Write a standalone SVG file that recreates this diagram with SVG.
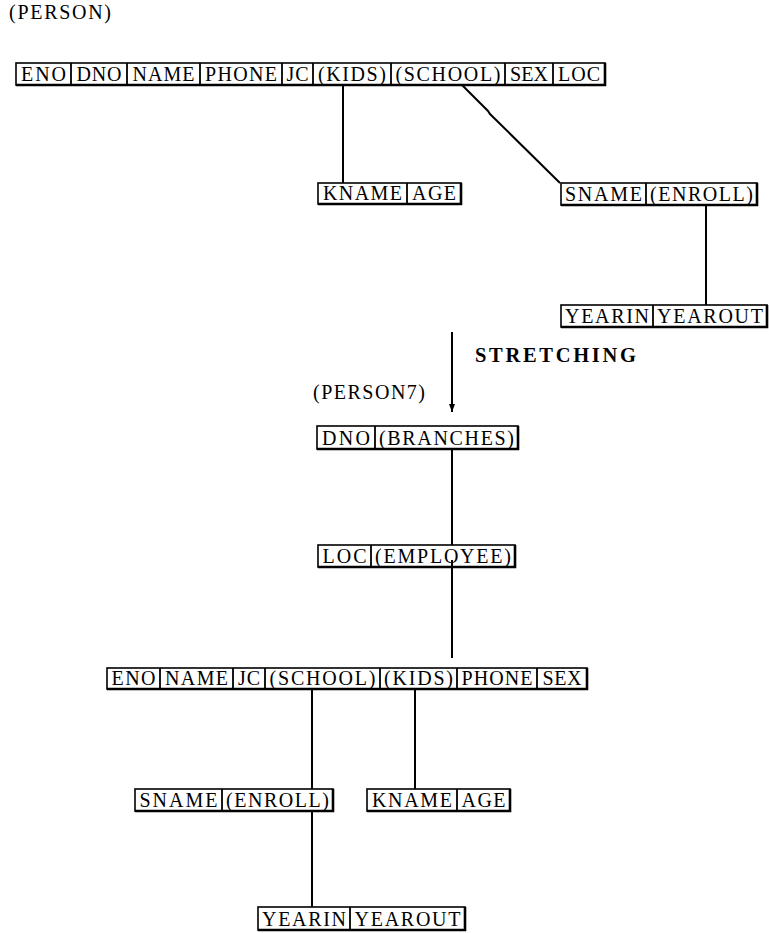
<svg xmlns="http://www.w3.org/2000/svg" width="769" height="933" viewBox="0 0 769 933">
<defs>
<style>
.bx{fill:#fff;stroke:#000;stroke-width:1.6}
.sh{fill:none;stroke:#000;stroke-width:2.6}
.dv{stroke:#000;stroke-width:1.8}
.t{font-family:"Liberation Serif","DejaVu Serif",serif;font-size:20px;text-anchor:middle;fill:#000}
.lb{font-family:"Liberation Serif","DejaVu Serif",serif;font-size:20px;fill:#000}
.bd{font-family:"Liberation Serif","DejaVu Serif",serif;font-size:20.5px;font-weight:bold;fill:#000}
.cn{fill:none;stroke:#000;stroke-width:2}
</style>
<marker id="ah" viewBox="0 0 8 10" refX="8" refY="5" markerWidth="8" markerHeight="10" markerUnits="userSpaceOnUse" orient="auto">
<path d="M0,2 L8,5 L0,8 z" fill="#000"/>
</marker>
</defs>
<rect width="769" height="933" fill="#fff"/>

<text class="lb" x="9" y="19" textLength="102" lengthAdjust="spacing">(PERSON)</text>
<text class="lb" x="313" y="399" textLength="112" lengthAdjust="spacing">(PERSON7)</text>
<text class="bd" x="475" y="362" textLength="161" lengthAdjust="spacing">STRETCHING</text>

<g id="connectors">
<path class="cn" d="M343,85 V183"/>
<path class="cn" d="M462,85 L488,111 L490,114 L560,183" stroke-width="1.3"/>
<path class="cn" d="M706,205 V305"/>
<path class="cn" d="M452,332 V412" marker-end="url(#ah)" stroke-width="2.2"/>
<path class="cn" d="M452,449 V545" stroke-width="2.6"/>
<path class="cn" d="M452,562 V658" stroke-width="2.6"/>
<path class="cn" d="M312,689 V789"/>
<path class="cn" d="M415,689 V789"/>
<path class="cn" d="M312,811 V907"/>
</g>

<g id="person">
<rect class="bx" x="16" y="63" width="589" height="22"/>
<path class="sh" d="M605,63 V85 H16"/>
<path class="dv" d="M71,63V85M127,63V85M200,63V85M282,63V85M313,63V85M391,63V85M505,63V85M553,63V85"/>
<text class="t" x="43.5" y="81" textLength="45" lengthAdjust="spacing">ENO</text>
<text class="t" x="99" y="81" textLength="45" lengthAdjust="spacing">DNO</text>
<text class="t" x="163.5" y="81" textLength="62" lengthAdjust="spacing">NAME</text>
<text class="t" x="241" y="81" textLength="72" lengthAdjust="spacing">PHONE</text>
<text class="t" x="297.5" y="81" textLength="22" lengthAdjust="spacing">JC</text>
<text class="t" x="352" y="81" textLength="68" lengthAdjust="spacing">(KIDS)</text>
<text class="t" x="448" y="81" textLength="105" lengthAdjust="spacing">(SCHOOL)</text>
<text class="t" x="529" y="81" textLength="38" lengthAdjust="spacing">SEX</text>
<text class="t" x="579" y="81" textLength="42" lengthAdjust="spacing">LOC</text>
</g>

<g id="kids1">
<rect class="bx" x="318" y="183" width="143" height="21"/>
<path class="sh" d="M461,183 V204 H318"/>
<path class="dv" d="M407,183V204"/>
<text class="t" x="362.5" y="200" textLength="79" lengthAdjust="spacing">KNAME</text>
<text class="t" x="434" y="200" textLength="44" lengthAdjust="spacing">AGE</text>
</g>

<g id="school1">
<rect class="bx" x="561" y="183" width="196" height="22"/>
<path class="sh" d="M757,183 V205 H561"/>
<path class="dv" d="M646,183V205"/>
<text class="t" x="603.5" y="201" textLength="77" lengthAdjust="spacing">SNAME</text>
<text class="t" x="701.5" y="201" textLength="103" lengthAdjust="spacing">(ENROLL)</text>
</g>

<g id="enroll1">
<rect class="bx" x="561" y="305" width="206" height="22"/>
<path class="sh" d="M767,305 V327 H561"/>
<path class="dv" d="M653,305V327"/>
<text class="t" x="607" y="323" textLength="84" lengthAdjust="spacing">YEARIN</text>
<text class="t" x="710" y="323" textLength="106" lengthAdjust="spacing">YEAROUT</text>
</g>

<g id="person7">
<rect class="bx" x="317" y="426" width="201" height="23"/>
<path class="sh" d="M518,426 V449 H317"/>
<path class="dv" d="M375,426V449"/>
<text class="t" x="346" y="445" textLength="48" lengthAdjust="spacing">DNO</text>
<text class="t" x="446.5" y="445" textLength="135" lengthAdjust="spacing">(BRANCHES)</text>
</g>

<g id="branches">
<rect class="bx" x="318" y="545" width="197" height="22"/>
<path class="sh" d="M515,545 V567 H318"/>
<path class="dv" d="M371,545V567"/>
<text class="t" x="344.5" y="563" textLength="44" lengthAdjust="spacing">LOC</text>
<text class="t" x="443" y="563" textLength="136" lengthAdjust="spacing">(EMPLOYEE)</text>
<path class="cn" d="M452,560 V567" stroke-width="2.6"/>
</g>

<g id="employee">
<rect class="bx" x="107" y="668" width="480" height="21"/>
<path class="sh" d="M587,668 V689 H107"/>
<path class="dv" d="M160,668V689M233,668V689M265,668V689M380,668V689M457,668V689M537,668V689"/>
<text class="t" x="133.5" y="685" textLength="44" lengthAdjust="spacing">ENO</text>
<text class="t" x="196.5" y="685" textLength="63" lengthAdjust="spacing">NAME</text>
<text class="t" x="249" y="685" textLength="22" lengthAdjust="spacing">JC</text>
<text class="t" x="322.5" y="685" textLength="106" lengthAdjust="spacing">(SCHOOL)</text>
<text class="t" x="418.5" y="685" textLength="69" lengthAdjust="spacing">(KIDS)</text>
<text class="t" x="497" y="685" textLength="71" lengthAdjust="spacing">PHONE</text>
<text class="t" x="562" y="685" textLength="39" lengthAdjust="spacing">SEX</text>
</g>

<g id="school2">
<rect class="bx" x="135" y="789" width="198" height="22"/>
<path class="sh" d="M333,789 V811 H135"/>
<path class="dv" d="M222,789V811"/>
<text class="t" x="178.5" y="807" textLength="78" lengthAdjust="spacing">SNAME</text>
<text class="t" x="277.5" y="807" textLength="103" lengthAdjust="spacing">(ENROLL)</text>
</g>

<g id="kids2">
<rect class="bx" x="367" y="789" width="143" height="22"/>
<path class="sh" d="M510,789 V811 H367"/>
<path class="dv" d="M457,789V811"/>
<text class="t" x="412" y="807" textLength="80" lengthAdjust="spacing">KNAME</text>
<text class="t" x="483.5" y="807" textLength="44" lengthAdjust="spacing">AGE</text>
</g>

<g id="enroll2">
<rect class="bx" x="258" y="907" width="207" height="23"/>
<path class="sh" d="M465,907 V930 H258"/>
<path class="dv" d="M350,907V930"/>
<text class="t" x="304" y="926" textLength="84" lengthAdjust="spacing">YEARIN</text>
<text class="t" x="407.5" y="926" textLength="106" lengthAdjust="spacing">YEAROUT</text>
</g>
</svg>
